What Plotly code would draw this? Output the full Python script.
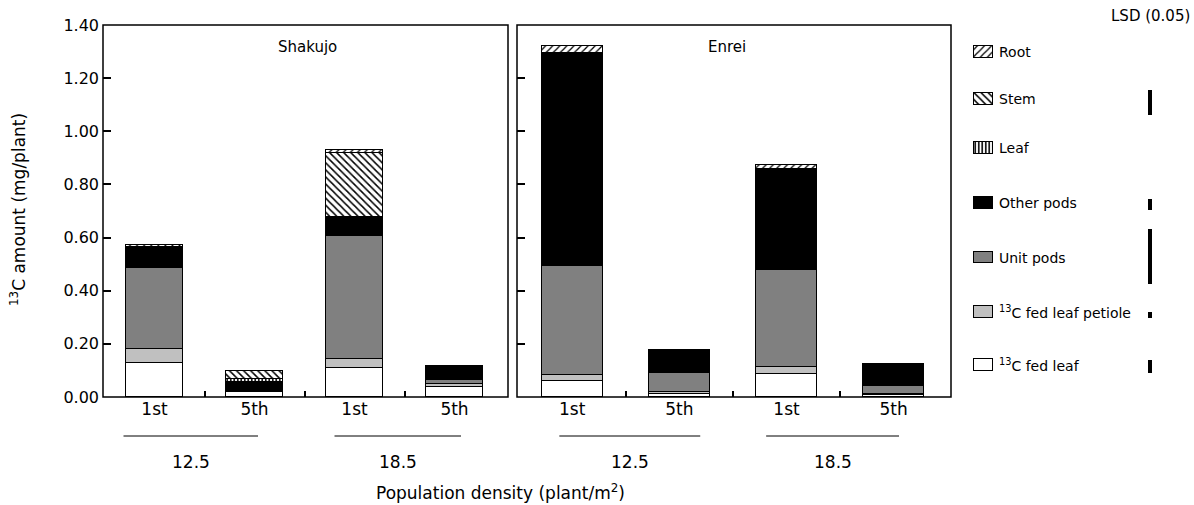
import plotly.graph_objects as go

# ---------------- data ----------------
categories = ["1st", "5th", "1st", "5th"]
density_labels = ["12.5", "18.5"]
cultivars = ["Shakujo", "Enrei"]

components = ["13C fed leaf", "13C fed leaf petiole", "Unit pods", "Other pods", "Leaf", "Stem", "Root"]

shakujo_fed_leaf = [0.129, 0.018, 0.108, 0.037]
shakujo_petiole = [0.052, 0.004, 0.035, 0.012]
shakujo_unit_pods = [0.306, 0.004, 0.463, 0.016]
shakujo_other_pods = [0.073, 0.030, 0.070, 0.040]
shakujo_leaf = [0.002, 0.012, 0.002, 0.004]
shakujo_stem = [0.004, 0.028, 0.241, 0.005]
shakujo_root = [0.006, 0.003, 0.009, 0.004]

enrei_fed_leaf = [0.060, 0.010, 0.087, 0.006]
enrei_petiole = [0.023, 0.008, 0.027, 0.005]
enrei_unit_pods = [0.411, 0.071, 0.364, 0.030]
enrei_other_pods = [0.794, 0.085, 0.374, 0.082]
enrei_leaf = [0.002, 0.0, 0.002, 0.0]
enrei_stem = [0.004, 0.0, 0.004, 0.0]
enrei_root = [0.027, 0.003, 0.014, 0.0]

# LSD (0.05) values (mg/plant); None = not shown
lsd_values = {"Root": None, "Stem": 0.094, "Leaf": None, "Other pods": 0.041,
              "Unit pods": 0.207, "13C fed leaf petiole": 0.023, "13C fed leaf": 0.049}

# ---------------- styles ----------------
FONT = "DejaVu Sans, Arial, sans-serif"
styles = {
    "13C fed leaf": dict(color="white"),
    "13C fed leaf petiole": dict(color="#c0c0c0"),
    "Unit pods": dict(color="#808080"),
    "Other pods": dict(color="black"),
    "Leaf": dict(color="white", pattern=dict(shape="|", fgcolor="black", bgcolor="white", size=3.5, solidity=0.45)),
    "Stem": dict(color="white", pattern=dict(shape="\\", fgcolor="black", bgcolor="white", size=5, solidity=0.3)),
    "Root": dict(color="white", pattern=dict(shape="/", fgcolor="black", bgcolor="white", size=5, solidity=0.25)),
}
legend_names = {
    "13C fed leaf": "<sup>13</sup>C fed leaf",
    "13C fed leaf petiole": "<sup>13</sup>C fed leaf petiole",
}

series = {
    "Shakujo": [shakujo_fed_leaf, shakujo_petiole, shakujo_unit_pods, shakujo_other_pods,
                shakujo_leaf, shakujo_stem, shakujo_root],
    "Enrei": [enrei_fed_leaf, enrei_petiole, enrei_unit_pods, enrei_other_pods,
              enrei_leaf, enrei_stem, enrei_root],
}

fig = go.Figure()
xpos = list(range(len(categories)))
for cv, ax in zip(cultivars, ["x", "x2"]):
    for comp, vals in zip(components, series[cv]):
        st = styles[comp]
        marker = dict(color=st["color"], line=dict(color="black", width=1))
        if "pattern" in st:
            marker["pattern"] = st["pattern"]
        fig.add_trace(go.Bar(x=xpos, y=vals, width=0.57, marker=marker, name=comp,
                             xaxis=ax, yaxis="y", showlegend=False, hoverinfo="skip"))

# ---------------- legend (manual) + LSD bars ----------------
legend_rows = ["Root", "Stem", "Leaf", "Other pods", "Unit pods", "13C fed leaf petiole", "13C fed leaf"]
legend_y = [1.298, 1.123, 0.937, 0.730, 0.525, 0.320, 0.120]   # row centres (y units)
sw_h = 0.045
for comp, yc in zip(legend_rows, legend_y):
    st = styles[comp]
    marker = dict(color=st["color"], line=dict(color="black", width=1))
    if "pattern" in st:
        marker["pattern"] = st["pattern"]
    fig.add_trace(go.Bar(x=[13.5], y=[sw_h], base=[yc - sw_h / 2], width=19, marker=marker,
                         xaxis="x3", yaxis="y3", showlegend=False, hoverinfo="skip"))
    fig.add_annotation(x=27, y=yc, xref="x3", yref="y3", text=legend_names.get(comp, comp),
                       showarrow=False, xanchor="left", yanchor="middle",
                       font=dict(family=FONT, size=14, color="black"))

lsd_centres = {"Stem": 1.11, "Other pods": 0.724, "Unit pods": 0.529, "13C fed leaf petiole": 0.308,
               "13C fed leaf": 0.115}
for comp, yc in lsd_centres.items():
    v = lsd_values[comp]
    fig.add_trace(go.Bar(x=[180], y=[v], base=[yc - v / 2], width=4,
                         marker=dict(color="black", line=dict(width=0)),
                         xaxis="x3", yaxis="y3", showlegend=False, hoverinfo="skip"))

# ---------------- layout ----------------
W, H = 1194, 505
y_dom = [1 - 397 / H, 1 - 25 / H]
dom_l = [103 / W, 508 / W]
dom_r = [517 / W, 951 / W]
XR = [-0.515, 3.535]
TICKFONT = dict(family=FONT, size=16, color="black")
CATFONT = dict(family=FONT, size=17, color="black")

label_axis = dict(showline=False, showgrid=False, zeroline=False, range=XR, tickmode="array",
                  tickvals=xpos, ticktext=categories, ticks="", tickfont=CATFONT,
                  anchor="y", automargin=False, fixedrange=True)
tick_axis = dict(showline=False, showgrid=False, zeroline=False, range=XR, tickmode="array",
                 tickvals=[0.5, 1.5, 2.5], ticks="inside", ticklen=6, tickwidth=1.5,
                 tickcolor="black", showticklabels=False, anchor="y", automargin=False,
                 fixedrange=True)

fig.update_layout(
    template="none",
    width=W, height=H,
    margin=dict(l=0, r=0, t=0, b=0),
    paper_bgcolor="white", plot_bgcolor="rgba(0,0,0,0)",
    barmode="stack", bargap=0,
    font=dict(family=FONT, color="black"),
    xaxis=dict(domain=dom_l, **label_axis),
    xaxis2=dict(domain=dom_r, **label_axis),
    xaxis4=dict(domain=dom_l, overlaying="x", **tick_axis),
    xaxis5=dict(domain=dom_r, overlaying="x2", **tick_axis),
    yaxis=dict(domain=y_dom, range=[0, 1.4], dtick=0.2, tick0=0, tickformat=".2f",
               showline=False, ticks="inside", ticklen=8,
               tickwidth=1.5, tickcolor="black", showgrid=False, zeroline=False,
               tickfont=TICKFONT, anchor="x", automargin=False, fixedrange=True,
               ticklabelstandoff=3),
    yaxis2=dict(domain=y_dom, range=[0, 1.4], dtick=0.2, tick0=0, showticklabels=False,
                ticks="inside", ticklen=8, tickwidth=1.5, tickcolor="black",
                showline=False, showgrid=False, zeroline=False, anchor="x2", overlaying="y",
                automargin=False, fixedrange=True),
    xaxis3=dict(domain=[970 / W, 1.0], range=[0, 224], visible=False, anchor="y3", fixedrange=True),
    yaxis3=dict(domain=y_dom, range=[0, 1.4], visible=False, anchor="x3", fixedrange=True),
)

# invisible helper traces so the overlay axes are drawn
for xa, ya in [("x2", "y2"), ("x4", "y"), ("x5", "y2")]:
    fig.add_trace(go.Scatter(x=[0], y=[0], xaxis=xa, yaxis=ya, mode="markers",
                             marker=dict(opacity=0), showlegend=False, hoverinfo="skip"))

# panel frames
for xa, ya in [("x", "y"), ("x2", "y")]:
    fig.add_shape(type="rect", xref=f"{xa} domain", yref=f"{ya} domain", x0=0, x1=1, y0=0, y1=1,
                  line=dict(color="black", width=1.5), fillcolor="rgba(0,0,0,0)", layer="above")

# panel titles
for cv, xc in zip(cultivars, [307, 727]):
    fig.add_annotation(x=xc / W, y=1 - 47 / H, xref="paper", yref="paper", text=cv, showarrow=False,
                       xanchor="center", yanchor="middle",
                       font=dict(family=FONT, size=15, color="black"))

# density group underlines and labels
group_spans = {"x": [(-0.31, 1.035), (1.80, 3.065)], "x2": [(-0.12, 1.195), (1.81, 3.05)]}
for ax, spans in group_spans.items():
    for lab, (a, b) in zip(density_labels, spans):
        fig.add_shape(type="line", xref=ax, yref="paper", x0=a, x1=b, y0=1 - 436 / H, y1=1 - 436 / H,
                      line=dict(color="black", width=1))
        fig.add_annotation(x=(a + b) / 2, y=1 - 462 / H, xref=ax, yref="paper", text=lab,
                           showarrow=False, xanchor="center", yanchor="middle",
                           font=dict(family=FONT, size=17, color="black"))

# axis titles
fig.add_annotation(x=500 / W, y=1 - 492 / H, xref="paper", yref="paper",
                   text="Population density (plant/m<sup>2</sup>)", showarrow=False,
                   xanchor="center", yanchor="middle",
                   font=dict(family=FONT, size=17, color="black"))
fig.add_annotation(x=18 / W, y=1 - 210 / H, xref="paper", yref="paper",
                   text="<sup>13</sup>C amount (mg/plant)", showarrow=False, textangle=-90,
                   xanchor="center", yanchor="middle",
                   font=dict(family=FONT, size=17, color="black"))
fig.add_annotation(x=1150 / W, y=1 - 16 / H, xref="paper", yref="paper", text="LSD (0.05)",
                   showarrow=False, xanchor="center", yanchor="middle",
                   font=dict(family=FONT, size=15, color="black"))

fig.write_html("out.html")
